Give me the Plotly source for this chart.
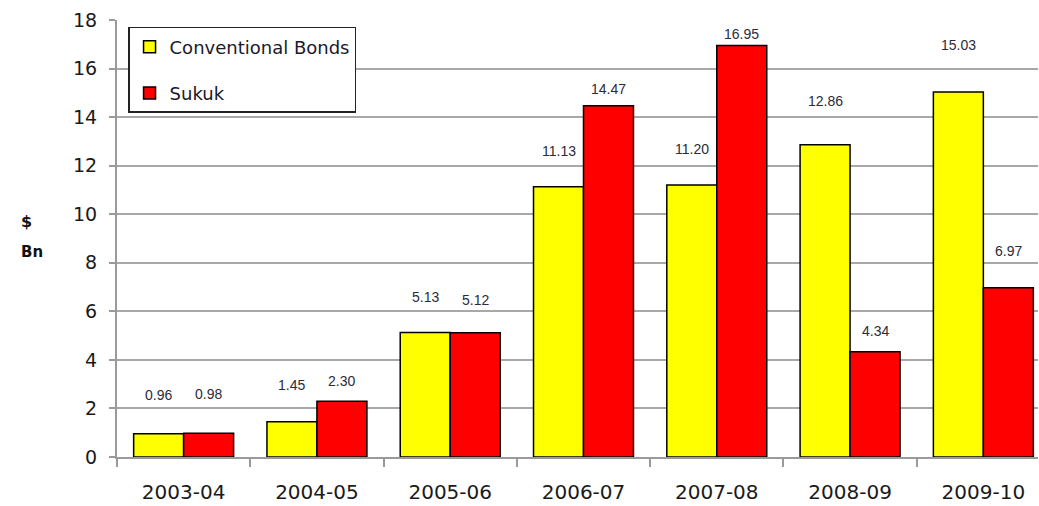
import plotly.graph_objects as go

years = ["2003-04", "2004-05", "2005-06", "2006-07", "2007-08", "2008-09", "2009-10"]
conventional = [0.96, 1.45, 5.13, 11.13, 11.20, 12.86, 15.03]
sukuk = [0.98, 2.30, 5.12, 14.47, 16.95, 4.34, 6.97]
# pixel offsets of the value labels above each bar top (as placed in the original)
conv_label_shift = [39, 37, 35, 36, 36, 44, 47]
sukuk_label_shift = [39, 20, 33, 17, 11, 21, 37]

fig = go.Figure()
fig.add_trace(go.Bar(
    x=years, y=conventional, name="Conventional Bonds",
    marker=dict(color="#FFFF00", line=dict(color="#000000", width=1.5)),
    legendgroup="a",
))
fig.add_trace(go.Bar(
    x=years, y=sukuk, name="Sukuk",
    marker=dict(color="#FF0000", line=dict(color="#000000", width=1.5)),
    legendgroup="b",
))

label_font = dict(family="Liberation Sans, Arial, sans-serif", size=14, color="#2b2b3a")
for i, yr in enumerate(years):
    fig.add_annotation(x=yr, y=conventional[i], text=f"{conventional[i]:.2f}",
                       xshift=-25, yshift=conv_label_shift[i], showarrow=False,
                       yanchor="middle", font=label_font)
    fig.add_annotation(x=yr, y=sukuk[i], text=f"{sukuk[i]:.2f}",
                       xshift=25, yshift=sukuk_label_shift[i], showarrow=False,
                       yanchor="middle", font=label_font)

fig.add_annotation(xref="paper", yref="paper", x=-0.106, y=0.539, text="<b>$</b>",
                   showarrow=False, font=dict(family="DejaVu Sans", size=16, color="#111111"))
fig.add_annotation(xref="paper", yref="paper", x=-0.106, y=0.468, text="<b>Bn</b>",
                   showarrow=False, font=dict(family="DejaVu Sans", size=15, color="#111111"))

fig.update_layout(
    width=1039, height=506,
    margin=dict(l=117, r=1, t=20, b=49),
    paper_bgcolor="white", plot_bgcolor="white",
    barmode="group", bargap=0.25, bargroupgap=0,
    showlegend=True,
    legend=dict(
        x=0.012, y=0.984, xanchor="left", yanchor="top",
        bgcolor="white", bordercolor="#222222", borderwidth=1.5,
        font=dict(family="DejaVu Sans", size=18, color="#1a1a2a"),
        traceorder="grouped", tracegroupgap=20,
    ),
    xaxis=dict(
        type="category", range=[-0.5, 6.41],
        showgrid=False, showline=True, linecolor="#9a9a9a", linewidth=2,
        ticks="outside", tickson="boundaries", ticklen=8, tickcolor="#9a9a9a", tickwidth=2,
        tickfont=dict(family="DejaVu Sans", size=20, color="#1a1a1a"),
        ticklabelstandoff=16,
    ),
    yaxis=dict(
        range=[0, 18], dtick=2, showgrid=True, gridcolor="#a8a8a8", gridwidth=1.5,
        showline=True, linecolor="#9a9a9a", linewidth=2,
        ticks="outside", ticklen=6, tickcolor="#9a9a9a", tickwidth=2,
        tickfont=dict(family="DejaVu Sans", size=19, color="#1a1a1a"),
        ticklabelstandoff=8, zeroline=False,
    ),
)

fig.write_html("out.html")
